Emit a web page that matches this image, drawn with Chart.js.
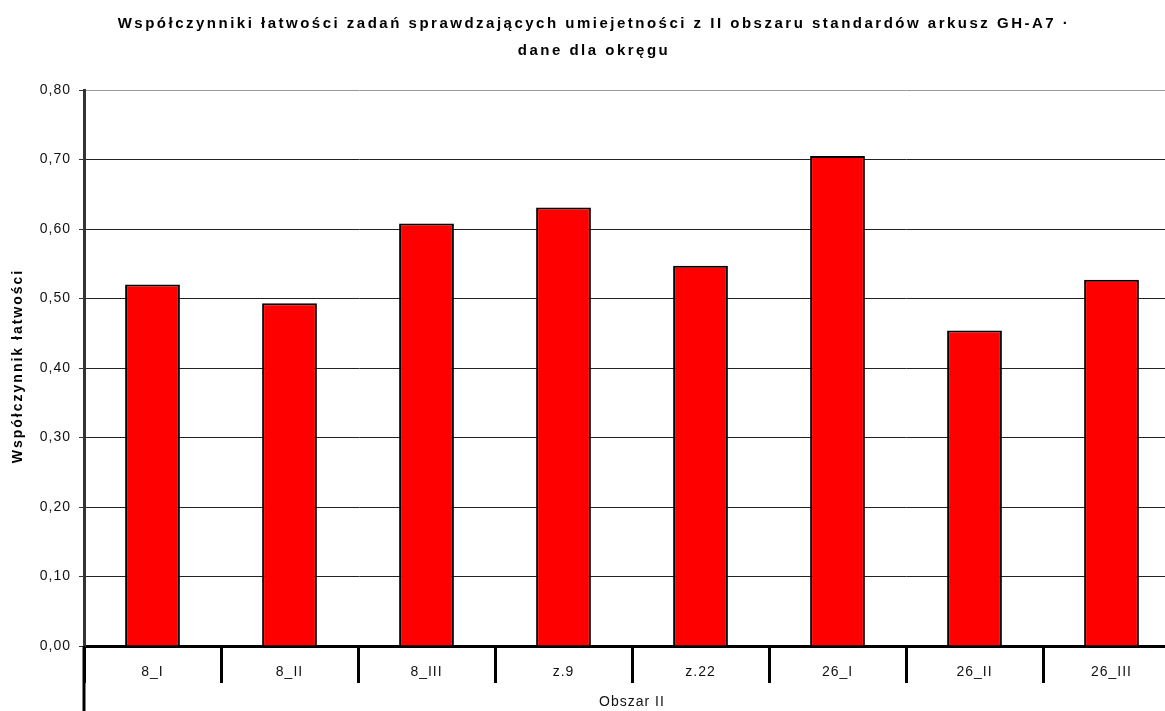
<!DOCTYPE html>
<html>
<head>
<meta charset="utf-8">
<script src="https://cdn.jsdelivr.net/npm/chart.js@4/dist/chart.umd.min.js"></script>
<style>
  body { margin: 0; background: #fff; }
  #wrap { width: 1165px; height: 711px; overflow: hidden; }
</style>
</head>
<body>
<div id="wrap"><canvas id="chart" width="1188" height="711"></canvas></div>
<script>
const titleLines = ['Współczynniki łatwości zadań sprawdzających umiejetności z II obszaru standardów arkusz GH-A7 ·', 'dane dla okręgu'];
const categories = ['8_I', '8_II', '8_III', 'z.9', 'z.22', '26_I', '26_II', '26_III'];
const values = [0.52, 0.493, 0.608, 0.631, 0.547, 0.705, 0.454, 0.527];
const groupLabel = 'Obszar II';
const yTitle = 'Współczynnik łatwości';

const font = "'Liberation Sans', Arial, sans-serif";

// Excel-like spaced text, titles drawn by hand, long left divider
const excelLook = {
    id: 'excelLook',
    beforeLayout(chart) { chart.ctx.letterSpacing = '1px'; },
    beforeDraw(chart) { chart.ctx.letterSpacing = '1px'; },
    afterDraw(chart) {
        const ctx = chart.ctx;
        const area = chart.chartArea;
        ctx.save();
        ctx.fillStyle = '#000';
        ctx.textAlign = 'center';
        ctx.letterSpacing = '2.5px';
        ctx.font = 'bold 15px ' + font;
        ctx.fillText(titleLines[0], chart.width / 2, 28);
        ctx.fillText(titleLines[1], chart.width / 2, 55);

        ctx.save();
        ctx.letterSpacing = '2px';
        ctx.font = 'bold 14px ' + font;
        ctx.textBaseline = 'middle';
        ctx.translate(18, (area.top + area.bottom) / 2 - 2);
        ctx.rotate(-Math.PI / 2);
        ctx.fillText(yTitle, 0, 0);
        ctx.restore();

        ctx.strokeStyle = '#000';
        ctx.lineWidth = 3;
        ctx.beginPath();
        ctx.moveTo(area.left, area.bottom);
        ctx.lineTo(area.left, chart.height);
        ctx.stroke();
        ctx.restore();
    }
};

new Chart(document.getElementById('chart'), {
    type: 'bar',
    data: {
        labels: categories,
        datasets: [{
            data: values,
            backgroundColor: '#ff0000',
            borderColor: '#000',
            borderWidth: 2,
            categoryPercentage: 1,
            barPercentage: 0.4
        }]
    },
    options: {
        responsive: false,
        animation: false,
        layout: { padding: { top: 90, right: 8, left: 0, bottom: 0 } },
        plugins: { legend: { display: false }, tooltip: { enabled: false } },
        scales: {
            x: {
                afterFit(scale) { scale.height = 65; },
                border: { color: '#000', width: 3 },
                grid: { drawOnChartArea: false, tickLength: 37, tickWidth: 3, tickColor: '#000', color: '#000', lineWidth: 3 },
                ticks: { padding: -19, color: '#111', font: { family: font, size: 14 } },
                title: { display: true, text: groupLabel, color: '#111', padding: { top: 0, bottom: 0 }, font: { family: font, size: 14 } }
            },
            y: {
                min: 0,
                max: 0.8,
                afterFit(scale) { scale.width = 84; },
                border: { color: '#333', width: 3 },
                grid: {
                    color: c => (Math.abs(c.tick.value - 0.8) < 1e-6 ? '#999' : '#222'),
                    lineWidth: 1,
                    tickLength: 5,
                    tickColor: '#333'
                },
                ticks: {
                    stepSize: 0.1,
                    padding: 8,
                    color: '#111',
                    font: { family: font, size: 14 },
                    callback: v => v.toFixed(2).replace('.', ',')
                }
            }
        }
    },
    plugins: [excelLook]
});
</script>
</body>
</html>
